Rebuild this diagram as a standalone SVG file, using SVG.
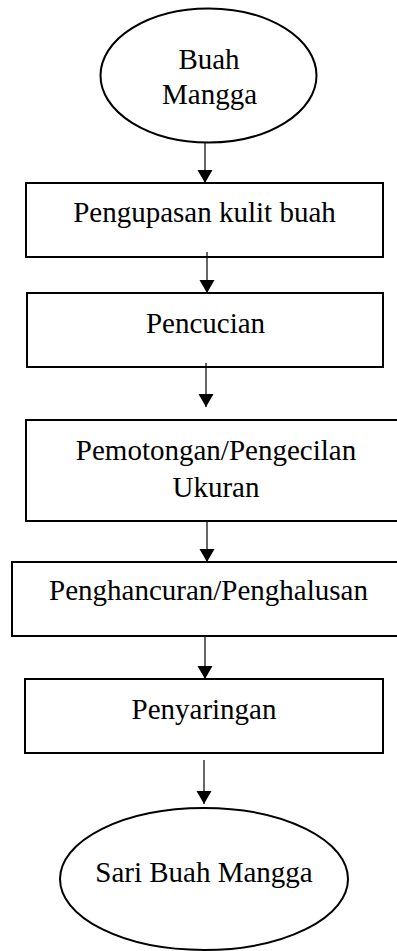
<svg xmlns="http://www.w3.org/2000/svg" width="397" height="951" viewBox="0 0 397 951">
<style>
.box{fill:#fff;stroke:#000;stroke-width:2}
.lbl{font-family:"Liberation Serif","Times New Roman",serif;font-size:29px;fill:#000;text-anchor:middle}
.con{stroke:#000;stroke-width:1.2;fill:none}
</style>
<defs>
<marker id="ah" markerUnits="userSpaceOnUse" markerWidth="14" markerHeight="16" refX="13" refY="8" orient="auto">
<path d="M0,0.5 L13,8 L0,15.5 z" fill="#000"/>
</marker>
</defs>
<rect width="397" height="951" fill="#fff"/>
<g id="n1">
<ellipse class="box" cx="208.5" cy="75.5" rx="108" ry="67"/>
<text class="lbl" x="209" y="69">Buah</text>
<text class="lbl" x="209.5" y="104">Mangga</text>
</g>
<g id="n2">
<rect class="box" x="26" y="183" width="357" height="74"/>
<text class="lbl" x="204.5" y="222">Pengupasan kulit buah</text>
</g>
<g id="n3">
<rect class="box" x="27" y="293" width="356" height="74"/>
<text class="lbl" x="205.5" y="333">Pencucian</text>
</g>
<g id="n4">
<rect class="box" x="26" y="420" width="380" height="101"/>
<text class="lbl" x="216" y="460">Pemotongan/Pengecilan</text>
<text class="lbl" x="216" y="497">Ukuran</text>
</g>
<g id="n5">
<rect class="box" x="12" y="562" width="394" height="74"/>
<text class="lbl" x="208.5" y="600">Penghancuran/Penghalusan</text>
</g>
<g id="n6">
<rect class="box" x="25" y="679" width="358" height="74"/>
<text class="lbl" x="204" y="719">Penyaringan</text>
</g>
<g id="n7">
<ellipse class="box" cx="204" cy="879" rx="144" ry="71"/>
<text class="lbl" x="204" y="882">Sari Buah Mangga</text>
</g>
<g id="connectors">
<line class="con" x1="205" y1="142" x2="205" y2="183" marker-end="url(#ah)"/>
<line class="con" x1="207" y1="252" x2="207" y2="293" marker-end="url(#ah)"/>
<line class="con" x1="206" y1="363" x2="206" y2="407" marker-end="url(#ah)"/>
<line class="con" x1="207" y1="521" x2="207" y2="562" marker-end="url(#ah)"/>
<line class="con" x1="205" y1="637" x2="205" y2="679" marker-end="url(#ah)"/>
<line class="con" x1="204" y1="760" x2="204" y2="804" marker-end="url(#ah)"/>
</g>
</svg>
